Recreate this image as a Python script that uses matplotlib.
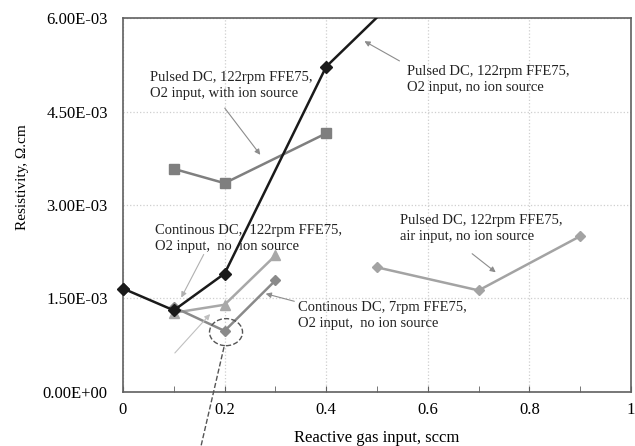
import matplotlib
matplotlib.use('Agg')

import numpy as np
import matplotlib.pyplot as plt
from matplotlib.patches import Ellipse
from matplotlib.ticker import FuncFormatter, MultipleLocator

plt.rcParams['font.family'] = ['Liberation Serif', 'DejaVu Serif']

# data (resistivity, ohm.cm)
x_pulsed_o2 = [0.0, 0.1, 0.2, 0.4, 0.6]
y_pulsed_o2 = [1.66e-3, 1.31e-3, 1.90e-3, 5.22e-3, 6.80e-3]

x_pulsed_ion = [0.1, 0.2, 0.4]
y_pulsed_ion = [3.58e-3, 3.35e-3, 4.15e-3]

x_cont_122 = [0.1, 0.2, 0.3]
y_cont_122 = [1.27e-3, 1.40e-3, 2.19e-3]

x_cont_7 = [0.1, 0.2, 0.3]
y_cont_7 = [1.36e-3, 0.98e-3, 1.79e-3]

x_pulsed_air = [0.5, 0.7, 0.9]
y_pulsed_air = [2.00e-3, 1.63e-3, 2.50e-3]

xticks = [0, 0.2, 0.4, 0.6, 0.8, 1.0]
yticks = [0, 1.5e-3, 3.0e-3, 4.5e-3, 6.0e-3]

fig = plt.figure(figsize=(6.35, 4.46), dpi=100)
ax = fig.add_axes([0.1937, 0.1211, 0.8, 0.8385])

ax.plot(x_pulsed_ion, y_pulsed_ion, color='#7f7f7f', lw=1.8, marker='s', ms=6.5, zorder=3)
ax.plot(x_cont_122, y_cont_122, color='#a8a8a8', lw=1.8, marker='^', ms=7, zorder=3)
ax.plot(x_cont_7, y_cont_7, color='#8a8a8a', lw=1.8, marker='D', ms=5.5, zorder=3)
ax.plot(x_pulsed_air, y_pulsed_air, color='#a3a3a3', lw=1.8, marker='D', ms=5.5, zorder=3)
ax.plot(x_pulsed_o2, y_pulsed_o2, color='#1a1a1a', lw=1.8, marker='D', ms=6, zorder=4,
        clip_on=True)
# marker at x=0 sits on the spine, draw it unclipped
ax.plot(x_pulsed_o2[:1], y_pulsed_o2[:1], color='#1a1a1a', marker='D', ms=6, ls='none',
        zorder=5, clip_on=False)

ax.set_xlim(0, 1)
ax.set_ylim(0, 6e-3)
ax.set_xticks(xticks)
ax.set_yticks(yticks)
ax.xaxis.set_minor_locator(MultipleLocator(0.1))
ax.xaxis.set_major_formatter(FuncFormatter(lambda v, p: f'{v:g}'))
ax.yaxis.set_major_formatter(FuncFormatter(lambda v, p: f'{v:.2E}'))
ax.tick_params(axis='x', which='both', direction='in', length=4, color='#606060',
               labelsize=12, pad=7)
ax.tick_params(axis='y', length=0, labelsize=12, pad=11)
ax.grid(True, which='major', ls=':', color='#cfcfcf', lw=0.9)
ax.set_axisbelow(True)
for s in ax.spines.values():
    s.set_color('#606060')
    s.set_linewidth(1.2)

ax.set_xlabel('Reactive gas input, sccm', fontsize=12, labelpad=9)
ax.set_ylabel('Resistivity, Ω.cm', fontsize=11)
ax.yaxis.set_label_coords(-0.186, 0.575)

tkw = dict(fontsize=10.5, ha='left', va='center', linespacing=1.3, color='#222222')
akw = dict(arrowstyle='-|>', color='#8c8c8c', lw=0.8, mutation_scale=8)

ax.text(0.053, 4.91e-3, 'Pulsed DC, 122rpm FFE75,\nO2 input, with ion source', **tkw)
ax.annotate('', xy=(0.2736, 3.77e-3), xytext=(0.197, 4.59e-3), arrowprops=akw)

ax.text(0.559, 5.02e-3, 'Pulsed DC, 122rpm FFE75,\nO2 input, no ion source', **tkw)
ax.annotate('', xy=(0.4705, 5.65e-3), xytext=(0.549, 5.29e-3), arrowprops=akw)

ax.text(0.063, 2.46e-3, 'Continous DC,  122rpm FFE75,\nO2 input,  no  ion source', zorder=2, **tkw)
ax.annotate('', xy=(0.1122, 1.476e-3), xytext=(0.1614, 2.246e-3),
            arrowprops=dict(akw, color='#b0b0b0'))

ax.text(0.3445, 1.235e-3, 'Continous DC, 7rpm FFE75,\nO2 input,  no ion source', **tkw)
ax.annotate('', xy=(0.2756, 1.588e-3), xytext=(0.3425, 1.444e-3), arrowprops=akw)

ax.text(0.5453, 2.62e-3, 'Pulsed DC, 122rpm FFE75,\nair input, no ion source', **tkw)
ax.annotate('', xy=(0.738, 1.893e-3), xytext=(0.683, 2.246e-3), arrowprops=akw)

# stray light arrow pointing at the triangle series
ax.annotate('', xy=(0.1752, 1.283e-3), xytext=(0.0984, 0.593e-3),
            arrowprops=dict(akw, color='#c0c0c0'))

# dashed circle around the minimum and its leader line
ax.add_patch(Ellipse((0.2028, 0.96e-3), 0.065, 0.434e-3, fill=False, ls='--',
                     ec='#555555', lw=1.0, clip_on=False, zorder=6))
ax.plot([0.1988, 0.1535], [0.72e-3, -0.87e-3], ls='--', color='#555555', lw=1.0,
        clip_on=False, zorder=6)

fig.savefig('out.png', dpi=100)
